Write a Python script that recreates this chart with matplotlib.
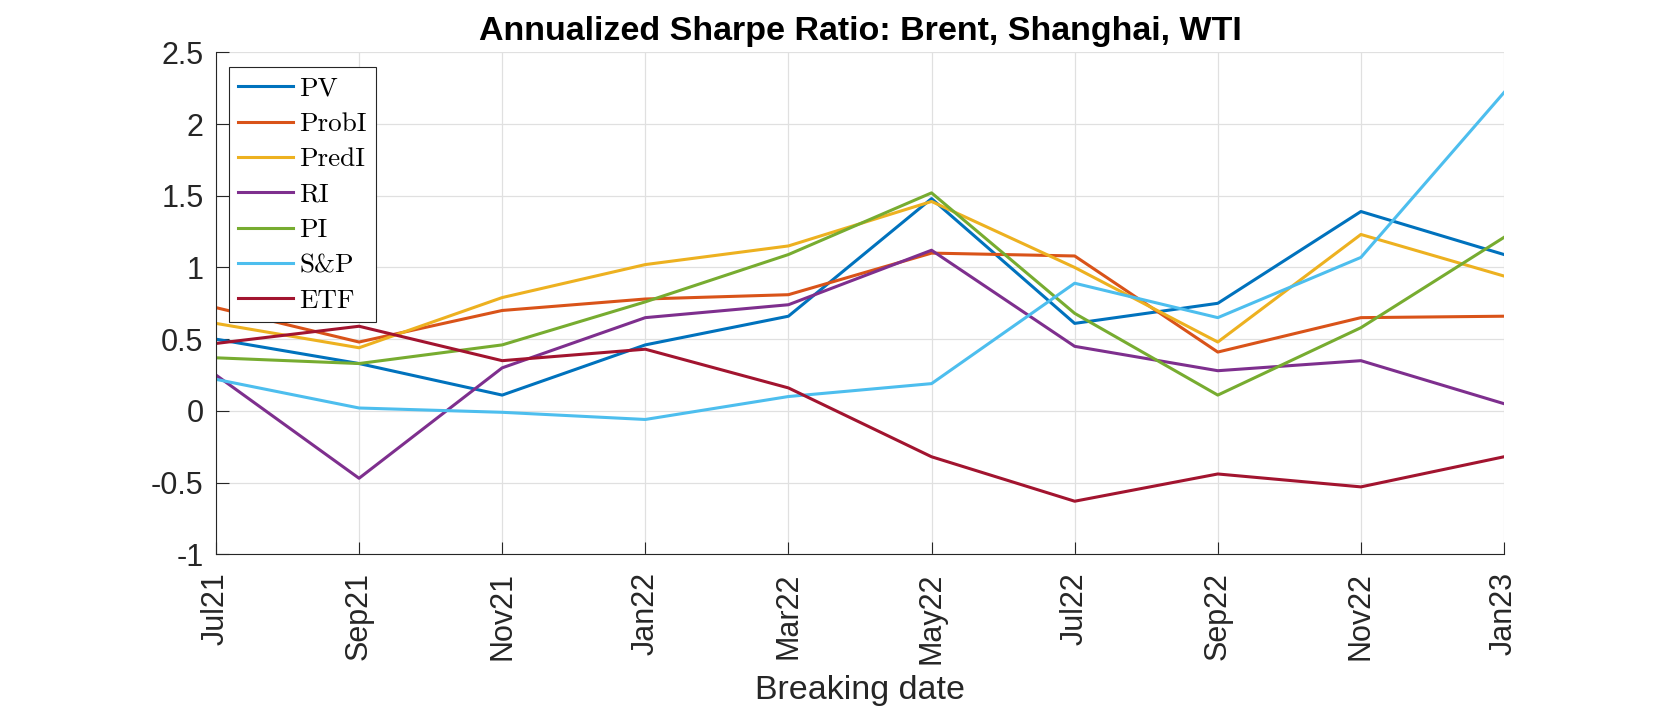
import numpy as np
import matplotlib
matplotlib.use("Agg")
import matplotlib.pyplot as plt

dates = ["Jul21", "Sep21", "Nov21", "Jan22", "Mar22", "May22", "Jul22", "Sep22", "Nov22", "Jan23"]

pv = [0.50, 0.33, 0.11, 0.46, 0.66, 1.48, 0.61, 0.75, 1.39, 1.09]
probi = [0.72, 0.48, 0.70, 0.78, 0.81, 1.10, 1.08, 0.41, 0.65, 0.66]
predi = [0.61, 0.44, 0.79, 1.02, 1.15, 1.46, 1.00, 0.48, 1.23, 0.94]
ri = [0.25, -0.47, 0.30, 0.65, 0.74, 1.12, 0.45, 0.28, 0.35, 0.05]
pi = [0.37, 0.33, 0.46, 0.76, 1.09, 1.52, 0.68, 0.11, 0.58, 1.21]
sp = [0.22, 0.02, -0.01, -0.06, 0.10, 0.19, 0.89, 0.65, 1.07, 2.22]
etf = [0.47, 0.59, 0.35, 0.43, 0.16, -0.32, -0.63, -0.44, -0.53, -0.32]

labels = ["PV", "ProbI", "PredI", "RI", "PI", "S&P", "ETF"]
colors = ["#0072BD", "#D95319", "#EDB120", "#7E2F8E", "#77AC30", "#4DBEEE", "#A2142F"]

plt.rcParams['font.family'] = ['Liberation Sans', 'DejaVu Sans']

fig = plt.figure(figsize=(16.61, 7.07), dpi=100)
ax = fig.add_axes([0.130, 0.216, 0.7755, 0.710])

x = np.arange(len(dates))
for series, lab, c in zip([pv, probi, predi, ri, pi, sp, etf], labels, colors):
    ax.plot(x, series, color=c, lw=2.2, label=lab)

ax.set_xlim(0, len(dates) - 1)
ax.set_ylim(-1, 2.5)
ax.set_xticks(x)
ax.set_xticklabels(dates, rotation=90, fontsize=22)
ax.set_yticks(np.arange(-1, 2.51, 0.5))
ax.set_yticklabels(["-1", "-0.5", "0", "0.5", "1", "1.5", "2", "2.5"], fontsize=22)
ax.tick_params(direction="in", length=9, width=0.8, colors="#262626")
ax.tick_params(axis="y", pad=9)
ax.tick_params(axis="x", pad=13)
ax.grid(True, color="#e0e0e0", lw=0.9)
ax.set_axisbelow(True)
for s in ax.spines.values():
    s.set_color("#262626")
    s.set_linewidth(0.8)
ax.spines['top'].set_visible(False)
ax.spines['right'].set_visible(False)

ax.set_title("Annualized Sharpe Ratio: Brent, Shanghai, WTI", fontsize=24.5, fontweight="bold", pad=9)
ax.set_xlabel("Breaking date", fontsize=24.5, color="#262626", labelpad=8)

leg = ax.legend(loc="upper left", bbox_to_anchor=(0.0101, 0.970),
                prop={'family': ['cmr10', 'DejaVu Serif'], 'size': 19.5},
                handlelength=2.0, handletextpad=0.25, labelspacing=0.42,
                borderpad=0.35, borderaxespad=0, fancybox=False, framealpha=1,
                edgecolor="#262626")
leg.get_frame().set_linewidth(0.8)

fig.savefig("out.png", dpi=100)
